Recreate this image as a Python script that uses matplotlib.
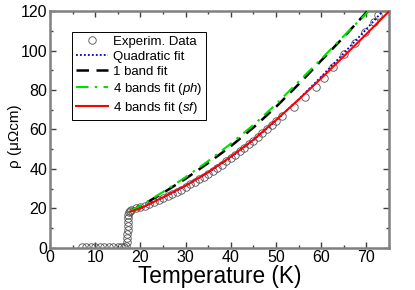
import matplotlib
matplotlib.use("Agg")
import matplotlib.pyplot as plt
from matplotlib.ticker import MultipleLocator

plt.rcParams['font.family'] = ['Liberation Sans', 'DejaVu Sans']
plt.rcParams['mathtext.fontset'] = 'custom'
plt.rcParams['mathtext.rm'] = 'Liberation Sans'
plt.rcParams['mathtext.it'] = 'Liberation Sans:italic'

# Experimental data
exp_T = [7, 8, 9, 10, 11, 12, 13, 14, 15, 15.8, 16.4,
         16.9, 17.0, 17.05, 17.1, 17.15, 17.2, 17.25, 17.3, 17.35, 17.4,
         17.6, 18, 19, 20, 21, 22, 23, 24, 25, 26, 27, 28, 29, 30,
         31, 32, 33, 34, 35, 36, 37, 38, 39, 40, 41, 42, 43, 44, 45,
         46, 47, 48, 49, 50,
         51.4, 53.9, 56.5, 58.8, 60.6, 62.7, 65.0, 67.4, 69.7, 71.6, 72.6]
exp_rho = [0.5, 0.5, 0.5, 0.5, 0.5, 0.5, 0.5, 0.5, 0.5, 0.5, 0.5,
           1, 3, 5, 7, 9, 11, 13, 15, 16.5, 18,
           18.8, 19.3, 19.9, 20.6, 21.4, 22.3, 23.2, 24.1, 25.0, 26.0, 27.1, 28.2, 29.4, 30.9,
           32.1, 33.4, 34.7, 36.1, 37.6, 39.1, 40.6, 42.2, 43.8, 45.5, 47.2, 49.0, 50.8, 52.6, 54.4,
           56.3, 58.3, 60.3, 62.3, 64.3,
           66.9, 71.3, 76.6, 81.5, 86.3, 91.9, 98.3, 104.0, 109.5, 114.5, 118.0]

# Quadratic fit
quad_T = [17.7, 20, 25, 30, 35, 40, 45, 50, 55, 60, 65, 70, 73, 73.6]
quad_rho = [18.5, 20.1, 25.4, 31.3, 38.1, 45.9, 54.6, 64.5, 75.3, 86.8, 98.8, 111.0, 118.6, 120.0]

# 1 band fit
one_T = [17.7, 20, 25, 30, 35, 40, 45, 50, 55, 60, 65, 70, 71]
one_rho = [18.8, 21.0, 27.8, 35.0, 43.0, 51.5, 61.0, 71.5, 83.0, 95.0, 107.0, 119.5, 122.0]

# 4 bands fit (ph)
ph_T = [17.7, 20, 25, 30, 35, 40, 45, 50, 55, 60, 65, 70, 71]
ph_rho = [18.8, 21.2, 28.3, 35.8, 44.0, 52.8, 62.3, 72.8, 84.3, 95.8, 107.5, 119.0, 121.4]

# 4 bands fit (sf)
sf_T = [17.7, 20, 25, 30, 35, 40, 45, 50, 55, 60, 65, 70, 75]
sf_rho = [18.3, 19.9, 25.6, 31.5, 38.3, 46.2, 54.8, 64.8, 75.2, 86.0, 97.2, 108.5, 120.0]

fig = plt.figure(figsize=(4.15, 2.9), dpi=100)
ax = fig.add_axes([0.1205, 0.146, 0.817, 0.815])

ax.plot(exp_T, exp_rho, linestyle='none', marker='o', markersize=5.4,
        markerfacecolor='none', markeredgecolor='#505050', markeredgewidth=0.6,
        label='Experim. Data', zorder=2)
ax.plot(quad_T, quad_rho, color='#0000cc', linestyle=(0, (1, 1.2)), linewidth=1.3,
        label='Quadratic fit', zorder=3)
ax.plot(one_T, one_rho, color='black', linestyle=(0, (5, 3)), linewidth=1.8,
        label='1 band fit', zorder=4)
ax.plot(ph_T, ph_rho, color='#00e000', linestyle=(0, (6, 3, 1.2, 3)), linewidth=1.5,
        label='4 bands fit ($\\mathit{ph}$)', zorder=5)
ax.plot(sf_T, sf_rho, color='#ff0000', linestyle='-', linewidth=1.5,
        label='4 bands fit ($\\mathit{sf}$)', zorder=6)

ax.set_xlim(0, 75)
ax.set_ylim(0, 120)
ax.xaxis.set_major_locator(MultipleLocator(10))
ax.xaxis.set_minor_locator(MultipleLocator(5))
ax.yaxis.set_major_locator(MultipleLocator(20))
ax.yaxis.set_minor_locator(MultipleLocator(10))

for s in ax.spines.values():
    s.set_color('#808080')
    s.set_linewidth(1.8)
ax.tick_params(which='both', direction='in', top=True, right=True, color='#404040')
ax.tick_params(which='major', length=4, width=1.0, labelsize=11.5, pad=2)
ax.tick_params(which='minor', length=2.5, width=1.0)

ax.set_xlabel('Temperature (K)', fontsize=16.3, labelpad=0)
ax.set_ylabel('ρ (μΩcm)', fontsize=11)
ax.yaxis.set_label_coords(-0.083, 0.4725)

leg = ax.legend(loc='upper left', bbox_to_anchor=(0.065, 0.914), fontsize=9.5,
                frameon=True, fancybox=False, edgecolor='black', framealpha=1,
                numpoints=1, handlelength=2.4, handletextpad=0.4,
                labelspacing=0.22, borderpad=0.3, borderaxespad=0)
leg.get_frame().set_linewidth(0.7)

fig.savefig('out.png', dpi=100)
